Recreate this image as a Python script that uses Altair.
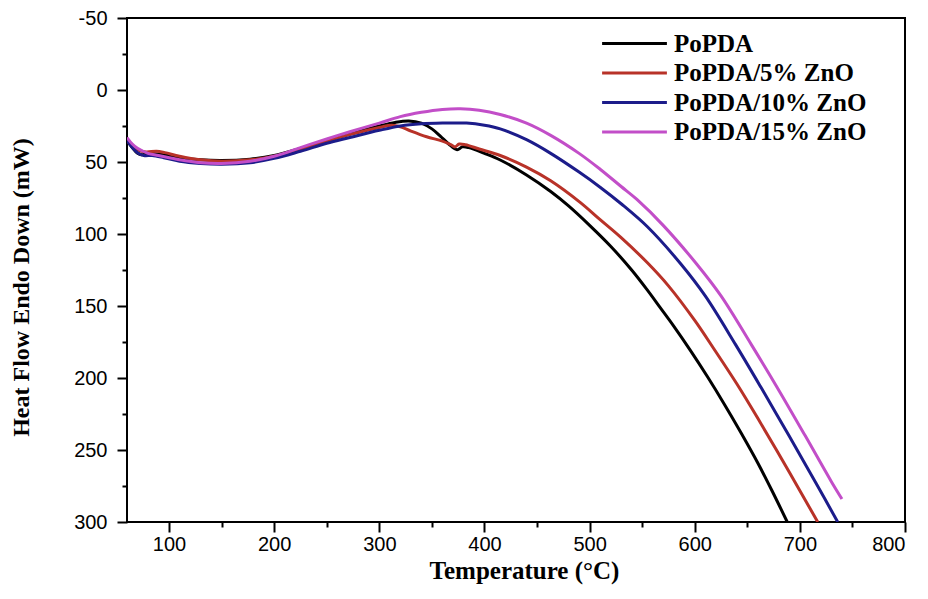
import altair as alt
import pandas as pd

series_names = ["PoPDA", "PoPDA/5% ZnO", "PoPDA/10% ZnO", "PoPDA/15% ZnO"]
series_colors = ["#000000", "#b83228", "#1c1c8a", "#c24ec8"]

# PoPDA
t_black = [60, 65, 70, 74, 80, 90, 110, 130, 150, 177, 200, 225, 250, 272, 300, 315, 328, 340, 350, 358,
           366, 374, 379, 385, 400, 415, 440, 463, 480, 500, 520, 540, 555, 567, 580, 596, 612, 628, 644,
           660, 674, 688]
hf_black = [35, 40, 44, 45, 44, 44.5, 47, 48.5, 49, 48, 45.5, 40.5, 35, 30.5, 25, 22.5, 21.5, 23, 27, 32,
            37.5, 41.5, 39.5, 40, 44, 48.6, 59, 70.5, 80.5, 94, 108.5, 125, 139, 151, 164, 181, 199, 218, 238,
            259, 279, 300]

# PoPDA/5% ZnO
t_red = [60, 65, 70, 78, 88, 96, 110, 130, 150, 177, 200, 225, 250, 272, 300, 312, 320, 330, 345, 360,
         368, 372, 376, 382, 395, 415, 440, 463, 491, 510, 530, 555, 575, 600, 618, 640, 660, 690, 717]
hf_red = [35, 39, 41.5, 43, 42.5, 43.5, 46, 48.5, 49.5, 48.5, 46, 41, 35.5, 31, 26, 24.5, 25.5, 28.5, 32.5,
          35.5, 38, 39.5, 37.5, 38, 41, 45.5, 53.5, 63, 78, 90, 102.5, 120, 136, 160, 179.5, 204, 228, 265.5, 300]

# PoPDA/10% ZnO
t_blue = [60, 65, 70, 76, 84, 95, 110, 130, 150, 177, 200, 225, 250, 272, 300, 320, 340, 360, 383, 400,
          415, 440, 463, 490, 510, 530, 555, 587, 610, 639, 663, 690, 715, 736]
hf_blue = [35, 40, 43.5, 45.5, 45.5, 47, 49.5, 51, 51.5, 50.5, 47.5, 42.5, 37, 33, 28, 25, 23.5, 23, 23,
           24.5, 27, 34.5, 44, 57, 67.5, 79, 95, 121, 143, 177, 206.5, 240.5, 272.5, 300]

# PoPDA/15% ZnO
t_mag = [60, 65, 70, 80, 90, 110, 130, 150, 177, 200, 225, 250, 272, 300, 320, 340, 360, 377, 395, 415,
         440, 463, 490, 510, 530, 545, 570, 602, 625, 654, 678, 705, 730, 740]
hf_mag = [33, 37.5, 40.5, 44, 45.5, 48.5, 50.5, 51, 49.5, 46, 40, 34, 29, 23, 18.5, 15.5, 13.5, 13, 14, 17,
          23, 31.5, 44, 55, 67, 76, 94, 121, 143, 177, 206, 240, 272, 284]

x_major = [100, 200, 300, 400, 500, 600, 700, 800]
x_minor = [150, 250, 350, 450, 550, 650, 750]
y_major = [-50, 0, 50, 100, 150, 200, 250, 300]
y_minor = [-25, 25, 75, 125, 175, 225, 275]

rows = []
for name, ts, hs in zip(series_names, [t_black, t_red, t_blue, t_mag], [hf_black, hf_red, hf_blue, hf_mag]):
    for i, (t, h) in enumerate(zip(ts, hs)):
        rows.append({"series": name, "T": t, "HF": h, "idx": i})
df = pd.DataFrame(rows)

x_scale = alt.Scale(domain=[60, 800], nice=False, zero=False)
y_scale = alt.Scale(domain=[-50, 300], reverse=True, nice=False, zero=False)

tick_font = "Liberation Sans"
title_font = "Liberation Serif"

base = alt.Chart(df)

lines = base.mark_line(strokeWidth=3, interpolate="catmull-rom", clip=True).encode(
    x=alt.X("T:Q", scale=x_scale,
            axis=alt.Axis(values=x_major, title="Temperature (°C)", orient="bottom", grid=False,
                          tickSize=10, tickWidth=2, tickColor="black", domain=False,
                          labelFont=tick_font, labelFontSize=20, labelColor="black", labelPadding=2,
                          titleFont=title_font, titleFontSize=25, titleFontWeight="bold",
                          titleColor="black", titleX=397, titleY=56, titleBaseline="alphabetic",
                          titleAlign="center")),
    y=alt.Y("HF:Q", scale=y_scale,
            axis=alt.Axis(values=y_major, title="Heat Flow Endo Down (mW)", orient="left", grid=False,
                          tickSize=10, tickWidth=2, tickColor="black", domain=False,
                          labelFont=tick_font, labelFontSize=20, labelColor="black", labelPadding=10,
                          labelExpr="toString(datum.value)",
                          titleFont=title_font, titleFontSize=24, titleFontWeight="bold",
                          titleColor="black", titleX=-99, titleY=269, titleBaseline="alphabetic",
                          titleAlign="center", titleAngle=270)),
    color=alt.Color("series:N", sort=series_names,
                    scale=alt.Scale(domain=series_names, range=series_colors),
                    legend=alt.Legend(title=None, orient="none", legendX=475, legendY=12, padding=0,
                                      symbolType="M-2.7,0H2.7", symbolSize=576, symbolStrokeWidth=3,
                                      symbolOffset=19, labelOffset=26, rowPadding=2.5,
                                      labelFont=title_font, labelFontWeight="bold", labelFontSize=25,
                                      labelColor="black", labelLimit=400)),
    order="idx:Q",
)

minor = base.mark_line(opacity=0).encode(
    x=alt.X("T:Q", scale=x_scale,
            axis=alt.Axis(values=x_minor, title="", orient="bottom", grid=False, labels=False,
                          domain=False, tickSize=5, tickWidth=2, tickColor="black")),
    y=alt.Y("HF:Q", scale=y_scale,
            axis=alt.Axis(values=y_minor, title="", orient="left", grid=False, labels=False,
                          domain=False, tickSize=5, tickWidth=2, tickColor="black")),
    detail="series:N",
)

chart = (
    alt.layer(lines, minor)
    .resolve_axis(x="independent", y="independent")
    .properties(width=778, height=504,
                padding={"left": 119, "top": 10, "right": 15, "bottom": 80},
                autosize=alt.AutoSizeParams(type="none"))
    .configure_view(stroke="black", strokeWidth=2)
)

chart.save("out.html", embed_options={"renderer": "svg", "actions": False})
